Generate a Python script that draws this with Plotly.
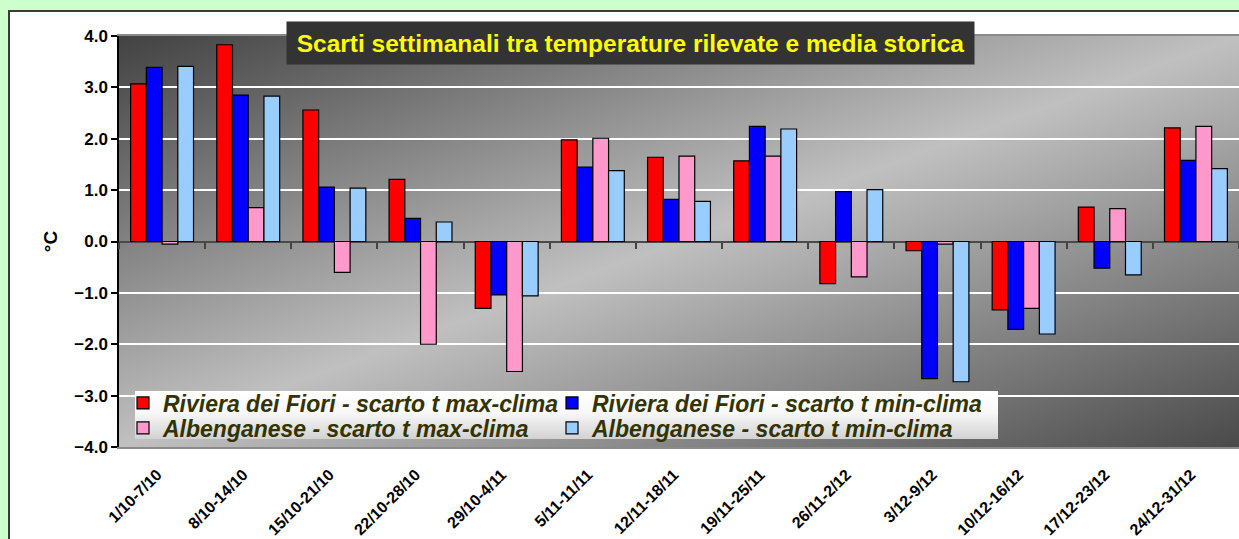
import base64
import plotly.graph_objects as go

# ---------------- data ----------------
weeks = ["1/10-7/10", "8/10-14/10", "15/10-21/10", "22/10-28/10", "29/10-4/11",
         "5/11-11/11", "12/11-18/11", "19/11-25/11", "26/11-2/12", "3/12-9/12",
         "10/12-16/12", "17/12-23/12", "24/12-31/12"]
riviera_max = [3.07, 3.83, 2.56, 1.21, -1.30, 1.98, 1.64, 1.57, -0.82, -0.18, -1.33, 0.67, 2.21]
riviera_min = [3.39, 2.85, 1.06, 0.45, -1.04, 1.45, 0.82, 2.24, 0.97, -2.67, -1.71, -0.52, 1.58]
alb_max = [-0.05, 0.66, -0.60, -2.00, -2.53, 2.01, 1.66, 1.66, -0.69, -0.05, -1.30, 0.64, 2.24]
alb_min = [3.41, 2.83, 1.04, 0.38, -1.06, 1.38, 0.78, 2.19, 1.01, -2.73, -1.80, -0.65, 1.42]
series_names = ["Riviera dei Fiori - scarto t max-clima",
                "Riviera dei Fiori - scarto t min-clima",
                "Albenganese - scarto t max-clima",
                "Albenganese - scarto t min-clima"]
y_tick_values = [-4, -3, -2, -1, 0, 1, 2, 3, 4]
title_text = "Scarti settimanali tra temperature rilevate e media storica"
y_title = "°C"

# ---------------- styling ----------------
colors = ["#FF0000", "#0000FF", "#FF99CC", "#99CCFF"]
legend_rows = ["legend", "legend", "legend2", "legend2"]
FONT = "Arial, 'Liberation Sans', sans-serif"
W, H = 1239, 539
ML, MR, MT, MB = 119, 0, 36, 92
PW, PH = W - ML - MR, H - MT - MB


def xf(px):
    return (px - ML) / PW


def yf(py):
    return (H - MB - py) / PH


def svg_uri(svg):
    return "data:image/svg+xml;base64," + base64.b64encode(svg.encode()).decode()


bg_svg = ("<svg xmlns='http://www.w3.org/2000/svg' viewBox='0 0 100 100' preserveAspectRatio='none' "
          "width='100' height='100'><defs><linearGradient id='g' x1='0' y1='0' x2='1' y2='1'>"
          "<stop offset='0' stop-color='#424242'/><stop offset='0.5' stop-color='#c0c0c0'/>"
          "<stop offset='1' stop-color='#4a4a4a'/></linearGradient></defs>"
          "<rect x='0' y='0' width='100' height='100' fill='url(#g)'/></svg>")
leg_svg = ("<svg xmlns='http://www.w3.org/2000/svg' viewBox='0 0 100 100' preserveAspectRatio='none' "
           "width='100' height='100'><defs><linearGradient id='g' x1='0' y1='0' x2='0' y2='1'>"
           "<stop offset='0' stop-color='#ffffff'/><stop offset='0.45' stop-color='#f8f8f8'/>"
           "<stop offset='1' stop-color='#d2d2d2'/></linearGradient></defs>"
           "<rect x='0' y='0' width='100' height='100' fill='url(#g)'/></svg>")

fig = go.Figure()
for name, vals, col, lg in zip(series_names, [riviera_max, riviera_min, alb_max, alb_min],
                               colors, legend_rows):
    fig.add_trace(go.Bar(x=weeks, y=vals, name=name, legend=lg,
                         marker=dict(color=col, line=dict(color="#000000", width=1.2))))

# invisible helper trace to carry the tick marks along the zero line
fig.add_trace(go.Scatter(x=weeks, y=riviera_max, xaxis="x2", yaxis="y", mode="markers",
                         marker=dict(opacity=0, size=1), showlegend=False, hoverinfo="skip"))

legend_common = dict(orientation="h", xref="paper", yref="paper", xanchor="left",
                     yanchor="middle", entrywidth=384, entrywidthmode="pixels",
                     bgcolor="rgba(0,0,0,0)", borderwidth=0, traceorder="normal",
                     font=dict(size=23, family=FONT, weight="bold", style="italic",
                               color="#333300"))

fig.update_layout(
    width=W, height=H, autosize=False,
    margin=dict(l=ML, r=MR, t=MT, b=MB, pad=0),
    paper_bgcolor="#FFFFFF",
    plot_bgcolor="rgba(0,0,0,0)",
    barmode="group", bargap=0.27, bargroupgap=0,
    font=dict(family=FONT, color="#000000"),
    xaxis=dict(type="category", categoryorder="array", categoryarray=weeks,
               range=[-0.5, len(weeks) - 0.5],
               showgrid=False, zeroline=False, ticks="",
               tickangle=-45, tickfont=dict(size=16, weight="bold", family=FONT, color="#000000"),
               ticklabelshift=-5, ticklabelstandoff=10,
               showline=True, linecolor="#8a8a8a", linewidth=2, mirror=True),
    xaxis2=dict(type="category", categoryorder="array", categoryarray=weeks,
                range=[-0.5, len(weeks) - 0.5], overlaying="x", anchor="free", position=0.5,
                showgrid=False, zeroline=False, showline=False, showticklabels=False,
                ticks="outside", tickson="boundaries", ticklen=6, tickwidth=1.5, tickcolor="#444444"),
    yaxis=dict(range=[-4, 4], tickvals=y_tick_values, tickformat=".1f",
               showgrid=True, gridcolor="#FFFFFF", gridwidth=1.5,
               zeroline=True, zerolinecolor="#4a4a4a", zerolinewidth=2,
               showline=True, linecolor="#000000", linewidth=1.5,
               ticks="outside", ticklen=6, tickwidth=1.5, tickcolor="#000000",
               tickfont=dict(size=17, weight="bold", family=FONT, color="#000000"),
               title=dict(text=y_title, standoff=12,
                          font=dict(size=19, weight="bold", family=FONT, color="#000000"))),
    legend=dict(legend_common, x=xf(123), y=yf(403)),
    legend2=dict(legend_common, x=xf(123), y=yf(428)),
    showlegend=True,
)

fig.add_layout_image(dict(source=svg_uri(bg_svg), xref="x domain", yref="y domain",
                          x=0, y=1, sizex=1, sizey=1, xanchor="left", yanchor="top",
                          sizing="stretch", layer="below"))
fig.add_layout_image(dict(source=svg_uri(leg_svg), xref="paper", yref="paper",
                          x=xf(135), y=yf(391), sizex=(998 - 135) / PW, sizey=48 / PH,
                          xanchor="left", yanchor="top", sizing="stretch", layer="above"))

# title box
fig.add_annotation(text=title_text, xref="paper", yref="paper",
                   x=xf(630.5), y=yf(43), xanchor="center", yanchor="middle",
                   showarrow=False, bgcolor="#333333", borderpad=3,
                   width=681, height=36,
                   font=dict(size=24.5, weight="bold", family=FONT, color="#FFFF00"))

# outer frame: green surround and dark border
green = "#CCFFCC"
fig.add_shape(type="rect", xref="paper", yref="paper", x0=xf(0), x1=xf(8), y0=yf(H), y1=yf(0),
              fillcolor=green, line=dict(width=0), layer="above")
fig.add_shape(type="rect", xref="paper", yref="paper", x0=xf(0), x1=xf(W), y0=yf(10), y1=yf(0),
              fillcolor=green, line=dict(width=0), layer="above")
fig.add_shape(type="line", xref="paper", yref="paper", x0=xf(9), x1=xf(9), y0=yf(10), y1=yf(H),
              line=dict(color="#3a3a3a", width=2), layer="above")
fig.add_shape(type="line", xref="paper", yref="paper", x0=xf(8), x1=xf(W), y0=yf(11), y1=yf(11),
              line=dict(color="#3a3a3a", width=2), layer="above")

fig.write_html("out.html", config={"displayModeBar": False},
               post_script=("document.documentElement.style.overflow='hidden';"
                            "document.body.style.margin='0';document.body.style.overflow='hidden';"))
